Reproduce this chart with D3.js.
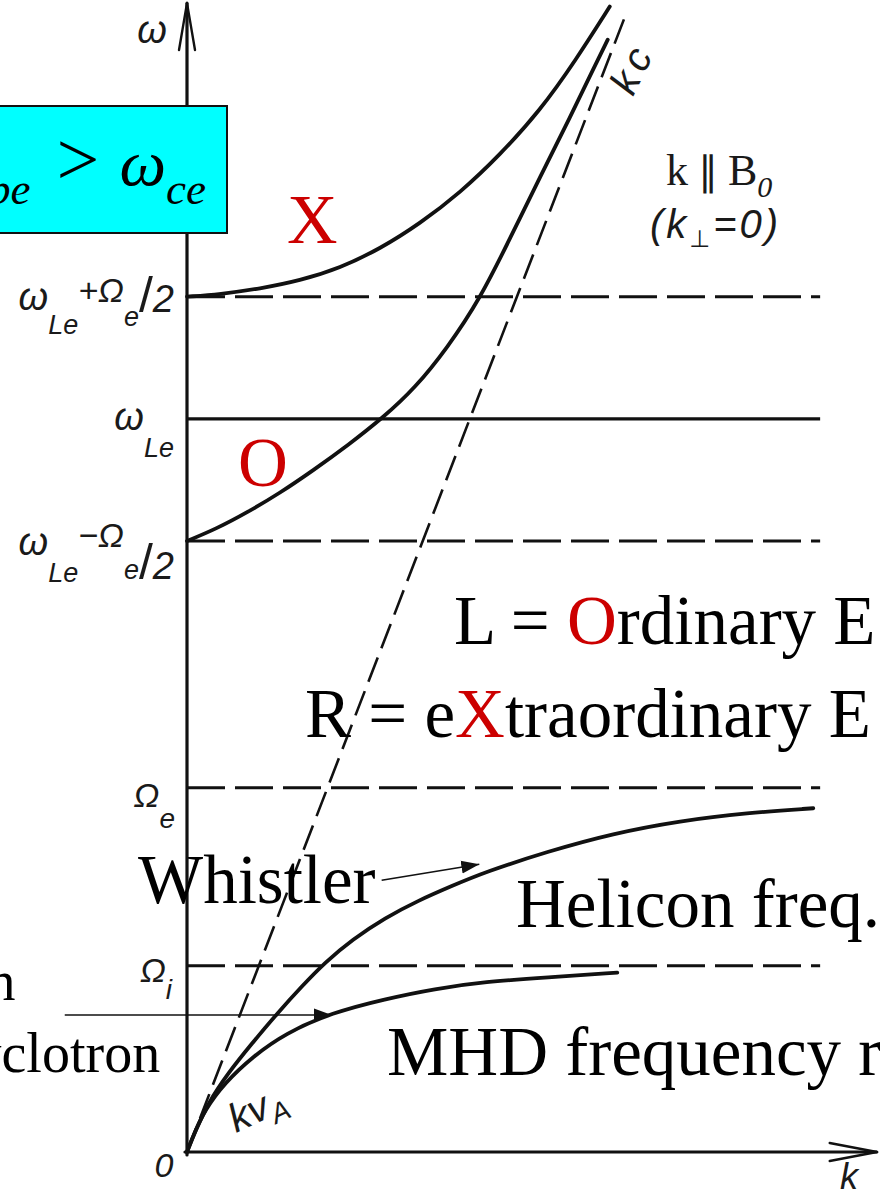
<!DOCTYPE html>
<html>
<head>
<meta charset="utf-8">
<script src="https://cdn.jsdelivr.net/npm/d3@7/dist/d3.min.js"></script>
<style>
  html, body { margin: 0; padding: 0; background: #fff; overflow: hidden; }
  svg { display: block; }
</style>
</head>
<body>
<svg id="chart" width="880" height="1195"></svg>
<script>
// Cold-plasma dispersion curves ω(k) for propagation along B0 (k ∥ B0, k⊥ = 0)

// characteristic frequency levels, in ω units
const levelKeys   = ["wLePlus", "wLe", "wLeMinus", "OmegaE", "OmegaI"];
const levelValues = [7.49, 6.42, 5.35, 3.19, 1.63];
const levelEndK   = 9.27;

// light line ω = kc
const lightLine = [[0, 0], [6.45, 10.0]];

// X (R-wave, upper) branch
const xBranch = [
  [0, 7.49], [0.48, 7.51], [1.07, 7.56], [1.65, 7.63], [2.24, 7.74], [2.83, 7.91],
  [3.41, 8.13], [4.00, 8.40], [4.58, 8.73], [5.17, 9.12], [5.68, 9.55], [6.19, 10.03]
];

// O (L-wave, upper) branch
const oBranch = [
  [0, 5.35], [0.44, 5.46], [0.88, 5.60], [1.36, 5.77], [1.85, 5.97], [2.36, 6.19],
  [2.87, 6.43], [3.34, 6.69], [3.81, 7.04], [4.29, 7.47], [4.73, 8.00], [5.17, 8.54],
  [5.61, 9.06], [5.97, 9.51], [6.16, 9.74]
];

// whistler / helicon branch (R-wave, below Ωe)
const whistlerBranch = [
  [0, 0], [0.12, 0.18], [0.31, 0.43], [0.60, 0.69], [0.95, 0.95], [1.33, 1.22],
  [1.68, 1.45], [2.02, 1.66], [2.42, 1.86], [2.90, 2.05], [3.38, 2.20], [3.88, 2.33],
  [4.36, 2.45], [5.27, 2.63], [6.24, 2.79], [7.22, 2.90], [8.20, 2.97], [9.17, 3.01]
];

// Alfvén / ion-cyclotron branch (L-wave, below Ωi)
const alfvenBranch = [
  [0, 0], [0.09, 0.14], [0.26, 0.37], [0.56, 0.61], [0.95, 0.83], [1.44, 1.04],
  [2.12, 1.22], [2.90, 1.34], [3.63, 1.43], [4.36, 1.49], [5.27, 1.53], [6.30, 1.57]
];

// annotation arrows: [tail, tip] in (k, ω)
const whistlerArrow = [[2.85, 2.38], [4.28, 2.52]];
const ionArrow      = [[-1.79, 1.20], [2.12, 1.20]];

const svg = d3.select("#chart");
const W = 880, H = 1195;
svg.append("rect").attr("width", W).attr("height", H).attr("fill", "#fff");

const x = d3.scaleLinear().domain([0, 10]).range([187, 870]);
const y = d3.scaleLinear().domain([0, 10]).range([1152, 10]);

const ink = "#111";
const serif = "'Liberation Serif', 'Times New Roman', serif";
const hand = "'Liberation Sans', 'DejaVu Sans', sans-serif";
const red = "#cc0000";

// arrowhead marker
const defs = svg.append("defs");
defs.append("marker")
  .attr("id", "head").attr("markerUnits", "userSpaceOnUse")
  .attr("viewBox", "0 -7 18 14").attr("refX", 18).attr("refY", 0)
  .attr("markerWidth", 18).attr("markerHeight", 14).attr("orient", "auto")
  .append("path").attr("d", "M0,-6.5L18,0L0,6.5Z").attr("fill", ink);

// frequency levels
const levels = svg.append("g");
levelKeys.forEach((key, i) => {
  levels.append("line")
    .attr("class", key)
    .attr("x1", x(0)).attr("x2", x(levelEndK))
    .attr("y1", y(levelValues[i])).attr("y2", y(levelValues[i]))
    .attr("stroke", ink)
    .attr("stroke-width", key === "wLe" ? 3.4 : 3)
    .attr("stroke-dasharray", key === "wLe" ? null : "38 10");
});

// light line
svg.append("path")
  .attr("d", d3.line().x(d => x(d[0])).y(d => y(d[1]))(lightLine))
  .attr("fill", "none").attr("stroke", ink).attr("stroke-width", 2.6)
  .attr("stroke-dasharray", "26 10");

// dispersion branches
const curve = d3.line().x(d => x(d[0])).y(d => y(d[1])).curve(d3.curveBasis);
[xBranch, oBranch, whistlerBranch, alfvenBranch].forEach(b => {
  svg.append("path").attr("d", curve(b))
    .attr("fill", "none").attr("stroke", ink).attr("stroke-width", 3.8)
    .attr("stroke-linecap", "round").attr("stroke-linejoin", "round");
});

// axes
const axes = svg.append("g").attr("stroke", ink).attr("fill", "none").attr("stroke-linecap", "round");
axes.append("line").attr("x1", x(0)).attr("x2", x(0)).attr("y1", y(0) + 3).attr("y2", y(10.06)).attr("stroke-width", 3.2);
axes.append("path").attr("d", `M${x(0) - 8},${y(9.65)}L${x(0)},${y(10.06)}L${x(0) + 8},${y(9.65)}`).attr("stroke-width", 2.4);
axes.append("line").attr("x1", x(0) - 2).attr("x2", x(10.1)).attr("y1", y(0)).attr("y2", y(0)).attr("stroke-width", 3.2);
axes.append("path").attr("d", `M${x(9.41)},${y(0) - 9}L${x(10.1)},${y(0)}L${x(9.41)},${y(0) + 9}`).attr("stroke-width", 2.4);

// multi-part label helper: parts = [text, fontSize, dy, italic?, dx]
function label(g, xPos, yPos, parts, opts = {}) {
  const t = g.append("text")
    .attr("x", xPos).attr("y", yPos)
    .attr("text-anchor", opts.anchor || "end")
    .attr("font-family", opts.family || hand)
    .attr("fill", opts.fill || "#1a1a1a");
  if (opts.transform) t.attr("transform", opts.transform);
  parts.forEach(p => {
    t.append("tspan")
      .attr("font-size", p[1])
      .attr("dy", p[2] || 0)
      .attr("dx", p[4] || 0)
      .attr("font-style", p[3] === false ? "normal" : "italic")
      .text(p[0]);
  });
  return t;
}

const lab = svg.append("g");
// ω axis title
label(lab, 152, 43, [["ω", 38, 0]], { anchor: "middle" });
// ω_Le + Ω_e/2
label(lab, 174, y(levelValues[0]) + 13, [
  ["ω", 38, 0], ["Le", 27, 24], ["+Ω", 34, -32], ["e", 27, 24], ["/", 50, -14, false], ["2", 38, 0]
]);
// ω_Le
label(lab, 174, y(levelValues[1]) + 11, [["ω", 38, 0], ["Le", 27, 27]]);
// ω_Le − Ω_e/2
label(lab, 174, y(levelValues[2]) + 14, [
  ["ω", 38, 0], ["Le", 27, 27], ["−Ω", 34, -35], ["e", 27, 32], ["/", 50, 0, false], ["2", 38, 0]
]);
// Ω_e
label(lab, 175, y(levelValues[3]) + 19, [["Ω", 34, 0], ["e", 28, 21]]);
// Ω_i
label(lab, 172, y(levelValues[4]) + 16, [["Ω", 34, 0], ["i", 28, 17]]);
// origin and k axis
label(lab, 164, y(0) + 25, [["0", 34, 0]], { anchor: "middle" });
label(lab, 849, y(0) + 37, [["k", 36, 0]], { anchor: "middle" });

// kc and kv_A markers along the lines
label(lab, 0, 0, [["kc", 40, 0]], { anchor: "start", transform: "translate(633,97) rotate(-64)" })
  .attr("letter-spacing", 6);
label(lab, 0, 0, [["kv", 40, 0], ["A", 28, 9]], { anchor: "start", transform: "translate(236,1133) rotate(-25)" });

// propagation condition
label(lab, 666, 185, [["k", 44, 0, false], [" ∥ ", 40, 0, false], ["B", 44, 0, false], ["0", 30, 12]],
  { anchor: "start", family: serif });
label(lab, 650, 238, [["(k", 40, 0], ["⊥", 24, 9, false], ["=0)", 40, -9]],
  { anchor: "start", family: hand }).attr("letter-spacing", 3);

// mode letters
const big = svg.append("g").attr("font-family", serif);
big.append("text").attr("x", 287).attr("y", 243).attr("font-size", 70).attr("fill", red).text("X");
big.append("text").attr("x", 238).attr("y", 486).attr("font-size", 69).attr("fill", red).text("O");

// polarisation key
const l1 = big.append("text").attr("x", 454).attr("y", 644).attr("font-size", 69).attr("fill", "#000");
l1.append("tspan").text("L = ");
l1.append("tspan").attr("fill", red).text("O");
l1.append("tspan").text("rdinary E");
const l2 = big.append("text").attr("x", 305).attr("y", 737).attr("font-size", 69).attr("fill", "#000");
l2.append("tspan").text("R = e");
l2.append("tspan").attr("fill", red).text("X");
l2.append("tspan").text("traordinary E");

big.append("text").attr("x", 138).attr("y", 903).attr("font-size", 69).text("Whistler");
big.append("text").attr("x", 516).attr("y", 927).attr("font-size", 69).text("Helicon freq.");
big.append("text").attr("x", 387).attr("y", 1075).attr("font-size", 69).text("MHD frequency range");
big.append("text").attr("x", -140).attr("y", 1000).attr("font-size", 56).text("Alfven");
big.append("text").attr("x", -140).attr("y", 1072).attr("font-size", 56).text("Ion cyclotron");

// annotation arrows
[whistlerArrow, ionArrow].forEach(a => {
  svg.append("line")
    .attr("x1", x(a[0][0])).attr("y1", y(a[0][1]))
    .attr("x2", x(a[1][0])).attr("y2", y(a[1][1]))
    .attr("stroke", ink).attr("stroke-width", 1.6)
    .attr("marker-end", "url(#head)");
});

// condition box
const box = svg.append("g");
box.append("rect").attr("x", -3).attr("y", 106).attr("width", 230).attr("height", 127)
  .attr("fill", "#00ffff").attr("stroke", "#111").attr("stroke-width", 2);
label(box, 206, 185, [
  ["ω", 66, 0], ["pe", 45, 19], [">", 76, -19, false, 26], ["ω", 66, 0, true, 20], ["ce", 45, 19]
], { family: serif, fill: "#000" });
</script>
</body>
</html>
